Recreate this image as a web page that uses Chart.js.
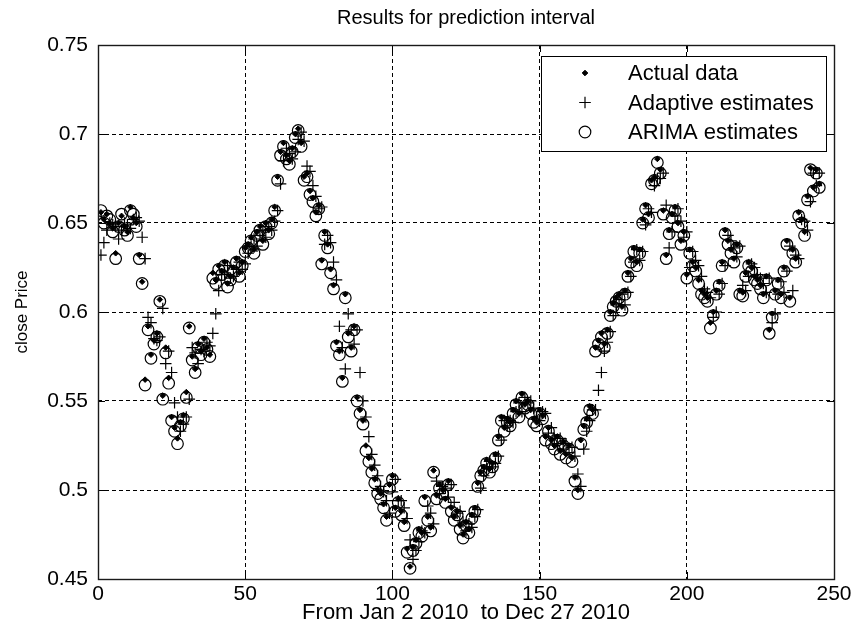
<!DOCTYPE html>
<html>
<head>
<meta charset="utf-8">
<script src="https://cdn.jsdelivr.net/npm/chart.js@4.4.1/dist/chart.umd.min.js"></script>
<style>
  html, body { margin: 0; padding: 0; background: #ffffff; }
  #wrap { width: 855px; height: 636px; }
</style>
</head>
<body>
<div id="wrap"><canvas id="c" width="855" height="636"></canvas></div>
<script>
// Daily close price of 2010 and the two one-step-ahead forecasts
const actualData = [
  0.656, 0.652, 0.655, 0.650, 0.647, 0.633, 0.650, 0.654, 0.648, 0.645,
  0.659, 0.653, 0.650, 0.632, 0.617, 0.562, 0.592, 0.576, 0.584, 0.588,
  0.607, 0.553, 0.580, 0.563, 0.541, 0.535, 0.529, 0.538, 0.542, 0.555,
  0.592, 0.575, 0.568, 0.582, 0.578, 0.585, 0.580, 0.576, 0.622, 0.618,
  0.626, 0.623, 0.628, 0.616, 0.620, 0.625, 0.630, 0.622, 0.628, 0.636,
  0.638, 0.642, 0.635, 0.645, 0.648, 0.640, 0.650, 0.646, 0.652, 0.659,
  0.676, 0.690, 0.695, 0.688, 0.685, 0.692, 0.700, 0.703, 0.695, 0.676,
  0.678, 0.668, 0.664, 0.656, 0.660, 0.629, 0.645, 0.638, 0.624, 0.615,
  0.583, 0.578, 0.563, 0.610, 0.588, 0.580, 0.592, 0.552, 0.545, 0.539,
  0.525, 0.518, 0.512, 0.506, 0.500, 0.498, 0.492, 0.485, 0.503, 0.508,
  0.490, 0.495, 0.488, 0.482, 0.467, 0.457, 0.468, 0.472, 0.478, 0.476,
  0.496, 0.485, 0.479, 0.511, 0.497, 0.503, 0.500, 0.495, 0.505, 0.490,
  0.485, 0.488, 0.480, 0.475, 0.482, 0.478, 0.486, 0.490, 0.504, 0.510,
  0.513, 0.517, 0.512, 0.515, 0.520, 0.530, 0.541, 0.535, 0.540, 0.538,
  0.545, 0.550, 0.543, 0.554, 0.548, 0.550, 0.545, 0.540, 0.538, 0.545,
  0.542, 0.530, 0.535, 0.528, 0.525, 0.530, 0.522, 0.527, 0.520, 0.525,
  0.518, 0.507, 0.500, 0.528, 0.536, 0.540, 0.547, 0.545, 0.580, 0.584,
  0.588, 0.582, 0.590, 0.600, 0.605, 0.608, 0.610, 0.603, 0.612, 0.622,
  0.630, 0.636, 0.628, 0.635, 0.652, 0.660, 0.655, 0.674, 0.676, 0.686,
  0.680, 0.657, 0.632, 0.646, 0.655, 0.659, 0.650, 0.640, 0.645, 0.621,
  0.635, 0.628, 0.625, 0.618, 0.612, 0.610, 0.608, 0.594, 0.600, 0.612,
  0.617, 0.628, 0.646, 0.640, 0.635, 0.630, 0.638, 0.612, 0.611, 0.622,
  0.628, 0.625, 0.620, 0.618, 0.615, 0.610, 0.620, 0.590, 0.599, 0.612,
  0.618, 0.610, 0.625, 0.640, 0.608, 0.635, 0.630, 0.656, 0.652, 0.645,
  0.665, 0.681, 0.670, 0.680, 0.672
];

const adaptiveEstimates = [
  0.632, 0.639, 0.646, 0.650, 0.649, 0.648, 0.641, 0.646, 0.650, 0.649,
  0.647, 0.652, 0.653, 0.651, 0.642, 0.630, 0.597, 0.594, 0.585, 0.584,
  0.586, 0.602, 0.571, 0.578, 0.566, 0.549, 0.541, 0.533, 0.537, 0.541,
  0.551, 0.580, 0.577, 0.571, 0.579, 0.578, 0.583, 0.581, 0.588, 0.599,
  0.612, 0.621, 0.622, 0.626, 0.619, 0.620, 0.624, 0.628, 0.624, 0.627,
  0.633, 0.637, 0.641, 0.637, 0.643, 0.646, 0.642, 0.648, 0.646, 0.651,
  0.657, 0.672, 0.685, 0.692, 0.689, 0.686, 0.690, 0.697, 0.701, 0.696,
  0.682, 0.679, 0.671, 0.665, 0.658, 0.659, 0.638, 0.643, 0.639, 0.628,
  0.618, 0.592, 0.580, 0.568, 0.599, 0.590, 0.582, 0.590, 0.566, 0.550,
  0.541, 0.530, 0.520, 0.514, 0.508, 0.502, 0.499, 0.494, 0.487, 0.499,
  0.506, 0.494, 0.494, 0.490, 0.484, 0.472, 0.461, 0.466, 0.471, 0.477,
  0.476, 0.491, 0.487, 0.481, 0.505, 0.498, 0.502, 0.501, 0.496, 0.503,
  0.493, 0.487, 0.488, 0.482, 0.477, 0.481, 0.479, 0.485, 0.489, 0.501,
  0.508, 0.512, 0.516, 0.513, 0.515, 0.519, 0.528, 0.539, 0.536, 0.539,
  0.538, 0.544, 0.549, 0.544, 0.552, 0.549, 0.550, 0.546, 0.541, 0.539,
  0.544, 0.543, 0.532, 0.535, 0.529, 0.526, 0.529, 0.523, 0.526, 0.521,
  0.524, 0.519, 0.509, 0.502, 0.523, 0.533, 0.539, 0.545, 0.545, 0.556,
  0.566, 0.578, 0.583, 0.589, 0.598, 0.604, 0.607, 0.610, 0.604, 0.611,
  0.620, 0.628, 0.635, 0.629, 0.634, 0.649, 0.658, 0.656, 0.671, 0.675,
  0.675, 0.678, 0.660, 0.636, 0.645, 0.654, 0.658, 0.651, 0.642, 0.645,
  0.625, 0.634, 0.629, 0.626, 0.620, 0.613, 0.611, 0.608, 0.597, 0.600,
  0.610, 0.616, 0.626, 0.643, 0.640, 0.636, 0.631, 0.637, 0.615, 0.612,
  0.620, 0.627, 0.625, 0.621, 0.619, 0.616, 0.611, 0.619, 0.594, 0.599,
  0.610, 0.617, 0.611, 0.623, 0.637, 0.612, 0.632, 0.630, 0.652, 0.651,
  0.646, 0.662, 0.678, 0.671, 0.678
];

const arimaEstimates = [
  0.657, 0.650, 0.654, 0.652, 0.645, 0.630, 0.648, 0.655, 0.646, 0.643,
  0.657, 0.655, 0.648, 0.630, 0.616, 0.559, 0.590, 0.574, 0.582, 0.586,
  0.606, 0.551, 0.577, 0.560, 0.539, 0.533, 0.526, 0.536, 0.540, 0.552,
  0.591, 0.573, 0.566, 0.580, 0.576, 0.583, 0.579, 0.575, 0.619, 0.616,
  0.624, 0.621, 0.626, 0.614, 0.618, 0.623, 0.628, 0.620, 0.626, 0.634,
  0.636, 0.640, 0.633, 0.643, 0.646, 0.638, 0.648, 0.644, 0.650, 0.657,
  0.674, 0.688, 0.693, 0.686, 0.683, 0.690, 0.698, 0.702, 0.693, 0.674,
  0.676, 0.666, 0.662, 0.654, 0.658, 0.627, 0.643, 0.636, 0.622, 0.613,
  0.581, 0.576, 0.561, 0.608, 0.586, 0.578, 0.590, 0.550, 0.543, 0.537,
  0.522, 0.516, 0.510, 0.504, 0.498, 0.495, 0.490, 0.483, 0.501, 0.506,
  0.488, 0.493, 0.486, 0.480, 0.465, 0.456, 0.466, 0.470, 0.476, 0.474,
  0.494, 0.483, 0.477, 0.510, 0.495, 0.501, 0.498, 0.493, 0.503, 0.488,
  0.483, 0.486, 0.478, 0.473, 0.480, 0.476, 0.484, 0.488, 0.502, 0.508,
  0.511, 0.515, 0.510, 0.513, 0.518, 0.528, 0.539, 0.533, 0.538, 0.536,
  0.543, 0.548, 0.541, 0.552, 0.546, 0.548, 0.543, 0.538, 0.536, 0.543,
  0.540, 0.528, 0.533, 0.526, 0.523, 0.528, 0.520, 0.525, 0.518, 0.523,
  0.516, 0.505, 0.498, 0.526, 0.534, 0.538, 0.545, 0.543, 0.578, 0.582,
  0.586, 0.580, 0.588, 0.598, 0.603, 0.606, 0.608, 0.601, 0.610, 0.620,
  0.628, 0.634, 0.626, 0.633, 0.650, 0.658, 0.653, 0.672, 0.674, 0.684,
  0.678, 0.655, 0.630, 0.644, 0.653, 0.657, 0.648, 0.638, 0.643, 0.619,
  0.633, 0.626, 0.623, 0.616, 0.610, 0.608, 0.606, 0.591, 0.598, 0.610,
  0.615, 0.626, 0.644, 0.638, 0.633, 0.628, 0.636, 0.610, 0.609, 0.620,
  0.626, 0.623, 0.618, 0.616, 0.613, 0.608, 0.618, 0.588, 0.597, 0.610,
  0.616, 0.608, 0.623, 0.638, 0.606, 0.633, 0.628, 0.654, 0.650, 0.643,
  0.663, 0.680, 0.668, 0.678, 0.670
];

// Trading day index, 1 .. N
const days = actualData.map((_, i) => i + 1);

const seriesNames = ['Actual data', 'Adaptive estimates', 'ARIMA estimates'];
const xTickLabels = ['0', '50', '100', '150', '200', '250'];
const yTickLabels = ['0.45', '0.5', '0.55', '0.6', '0.65', '0.7', '0.75'];

const titleText = 'Results for prediction interval';
const xTitleText = 'From Jan 2 2010  to Dec 27 2010';
const yTitleText = 'close Price';

const toPoints = (vals) => vals.map((v, i) => ({ x: days[i], y: v }));

const FONT = "'Liberation Sans', Arial, Helvetica, sans-serif";
const NARROW = "'Liberation Sans Narrow', 'Arial Narrow', 'Liberation Sans', Arial, sans-serif";

// Solid frame around the axes with MATLAB-style inward tick marks
const framePlugin = {
  id: 'frame',
  afterDatasetsDraw(chart) {
    const { ctx, chartArea: a, scales } = chart;
    const tick = 7;
    ctx.save();
    ctx.strokeStyle = '#000';
    ctx.lineWidth = 1;
    ctx.beginPath();
    scales.x.ticks.forEach(t => {
      const px = Math.round(scales.x.getPixelForValue(t.value)) + 0.5;
      ctx.moveTo(px, a.bottom); ctx.lineTo(px, a.bottom - tick);
      ctx.moveTo(px, a.top); ctx.lineTo(px, a.top + tick);
    });
    scales.y.ticks.forEach(t => {
      const py = Math.round(scales.y.getPixelForValue(t.value)) + 0.5;
      ctx.moveTo(a.left, py); ctx.lineTo(a.left + tick, py);
      ctx.moveTo(a.right, py); ctx.lineTo(a.right - tick, py);
    });
    ctx.stroke();
    ctx.lineWidth = 1.4;
    ctx.strokeStyle = '#1a1a1a';
    ctx.strokeRect(a.left + 0.5, a.top + 0.5, a.right - a.left, a.bottom - a.top);
    ctx.restore();
  }
};

// Boxed legend in the upper-right corner of the axes
const boxLegendPlugin = {
  id: 'boxLegend',
  afterDraw(chart) {
    const { ctx, chartArea: a } = chart;
    const boxW = 285, boxH = 95;
    const bx = a.right - 8 - boxW, by = a.top + 11;
    ctx.save();
    ctx.fillStyle = '#fff';
    ctx.fillRect(bx, by, boxW, boxH);
    ctx.strokeStyle = '#000';
    ctx.lineWidth = 1;
    ctx.strokeRect(bx + 0.5, by + 0.5, boxW, boxH);
    ctx.font = '22px ' + FONT;
    ctx.fillStyle = '#000';
    ctx.textBaseline = 'middle';
    ctx.textAlign = 'left';
    chart.data.datasets.forEach((ds, i) => {
      const y = by + 17 + i * 29.5;
      const mx = bx + 44;
      const style = { pointStyle: ds.pointStyle, radius: ds.pointRadius, borderWidth: ds.borderWidth, rotation: 0 };
      ctx.strokeStyle = '#000';
      ctx.fillStyle = ds.backgroundColor;
      ctx.lineWidth = ds.borderWidth;
      Chart.helpers.drawPoint(ctx, style, mx, y);
      ctx.fillStyle = '#000';
      ctx.fillText(ds.label, bx + 87, y + 1);
    });
    ctx.restore();
  }
};

new Chart(document.getElementById('c'), {
  type: 'scatter',
  data: {
    datasets: [
      {
        label: seriesNames[0],
        data: toPoints(actualData),
        pointStyle: 'rectRot',
        pointRadius: 2.8,
        borderWidth: 1,
        borderColor: '#000',
        backgroundColor: '#000'
      },
      {
        label: seriesNames[1],
        data: toPoints(adaptiveEstimates),
        pointStyle: 'cross',
        pointRadius: 5.8,
        borderWidth: 1.2,
        borderColor: '#000',
        backgroundColor: 'rgba(0,0,0,0)'
      },
      {
        label: seriesNames[2],
        data: toPoints(arimaEstimates),
        pointStyle: 'circle',
        pointRadius: 5.8,
        borderWidth: 1.2,
        borderColor: '#000',
        backgroundColor: 'rgba(0,0,0,0)'
      }
    ]
  },
  options: {
    responsive: false,
    devicePixelRatio: 1,
    animation: false,
    events: [],
    layout: { padding: { left: 0, right: 21, top: 0, bottom: 0 } },
    plugins: {
      legend: { display: false },
      tooltip: { enabled: false },
      title: {
        display: true,
        text: titleText,
        fullSize: false,
        color: '#000',
        font: { family: FONT, size: 20, weight: 'normal' },
        padding: { top: 6, bottom: 15 }
      }
    },
    scales: {
      x: {
        type: 'linear',
        min: 0,
        max: 250,
        afterFit(scale) { scale.height = 57; },
        ticks: {
          stepSize: 50,
          color: '#000',
          padding: 3,
          maxRotation: 0,
          font: { family: NARROW, size: 21 },
          callback: (v, i) => xTickLabels[i]
        },
        grid: { color: '#000', lineWidth: 1, drawTicks: false },
        border: { display: false, dash: [4, 3] },
        title: {
          display: true,
          text: xTitleText,
          color: '#000',
          font: { family: FONT, size: 22 },
          padding: { top: 0, bottom: 10 }
        }
      },
      y: {
        type: 'linear',
        min: 0.45,
        max: 0.75,
        afterFit(scale) { scale.width = 98; },
        ticks: {
          stepSize: 0.05,
          color: '#000',
          padding: 10,
          font: { family: NARROW, size: 21 },
          callback: (v, i) => yTickLabels[i]
        },
        grid: { color: '#000', lineWidth: 1, drawTicks: false },
        border: { display: false, dash: [4, 3] },
        title: {
          display: true,
          text: yTitleText,
          color: '#000',
          font: { family: FONT, size: 17 },
          padding: { top: 12, bottom: 0 }
        }
      }
    }
  },
  plugins: [framePlugin, boxLegendPlugin]
});
</script>
</body>
</html>
